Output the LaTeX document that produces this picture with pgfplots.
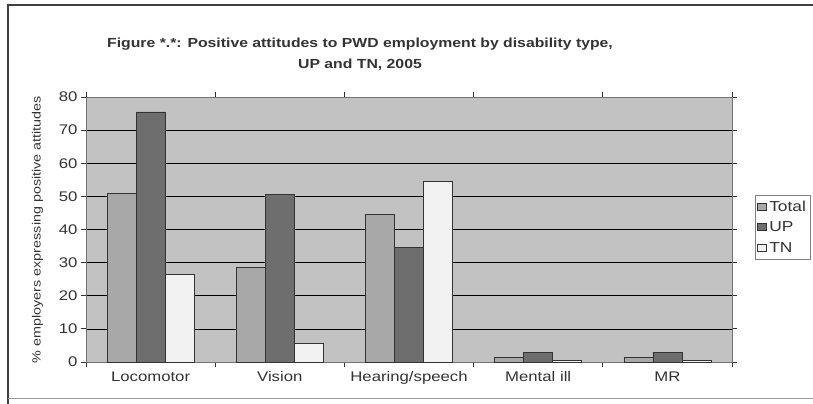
\documentclass[border=0pt]{standalone}
\usepackage{pgfplots}
\pgfplotsset{compat=1.18}
\usepackage{pgfplotstable}
\usetikzlibrary{calc}
\usepackage{fontspec}
\setmainfont[FakeStretch=1.2]{Liberation Sans}
\definecolor{txt}{HTML}{333333}
\definecolor{plotbg}{HTML}{C2C2C2}
\definecolor{cTotal}{HTML}{A8A8A8}
\definecolor{cUP}{HTML}{6E6E6E}
\definecolor{cTN}{HTML}{F2F2F2}

\pgfplotstableread{
x Total UP TN
0 51.0 75.5 26.5
1 28.5 50.5 5.5
2 44.5 34.5 54.5
3 1.5 3.0 0.5
4 1.5 3.0 0.5
}\attitudes

\begin{document}
\begin{tikzpicture}
\begin{axis}[
  name=main,
  scale only axis, width=646bp, height=265bp,
  axis background/.style={fill=plotbg},
  ybar=0pt, bar width=29bp,
  xmin=-0.5, xmax=4.5, ymin=0, ymax=80,
  xtick={0,...,4},
  xticklabels={Locomotor,Vision,Hearing/speech,Mental ill,MR},
  minor xtick={-0.5,0.5,...,4.5},
  every major x tick/.append style={draw=none},
  ytick={0,10,...,80},
  tick align=outside, major tick length=5bp, minor tick length=5bp,
  every tick/.append style={black!80, line width=0.8bp},
  ymajorgrids, grid style={black, line width=0.7bp},
  axis line style={black!55, line width=0.8bp},
  tick label style={text=txt, font=\fontsize{14}{16}\selectfont},
  /pgf/number format/assume math mode=true,
  xticklabel style={yshift=-1bp},
  ylabel={\% employers expressing positive attitudes},
  ylabel style={font=\fontsize{12}{14}\selectfont, text=txt, yshift=9bp},
  legend style={at={(rel axis cs:1.036,0.632)}, anchor=north west,
    draw=black!50, fill=white, font=\fontsize{14.5}{17}\selectfont, text=txt,
    row sep=5bp, inner xsep=2bp, inner ysep=4bp},
  legend image code/.code={\draw[#1, draw=black!80, line width=0.8bp] (0bp,-3.5bp) rectangle (9bp,3.5bp);},
  legend cell align=left,
]
\addplot[fill=cTotal, draw=black!80, line width=0.8bp] table[x=x,y=Total]{\attitudes};
\addplot[fill=cUP, draw=black!80, line width=0.8bp] table[x=x,y=UP]{\attitudes};
\addplot[fill=cTN, draw=black!80, line width=0.8bp] table[x=x,y=TN]{\attitudes};
\legend{Total,UP,TN}
\coordinate (o) at (rel axis cs:0,0);
\end{axis}
% page extent and chart frame, measured from the plot area's lower-left corner
\pgfresetboundingbox
\path[use as bounding box] ($(o)+(-86bp,-42bp)$) rectangle ($(o)+(727bp,362bp)$);
\draw[line width=1.6bp, black!75] ($(o)+(-78bp,-42bp)$) -- ($(o)+(-78bp,357bp)$) -- ($(o)+(727bp,357bp)$);
\draw[line width=1bp, black!40] ($(o)+(-78bp,-36bp)$) -- ($(o)+(727bp,-36bp)$);
\node[font=\bfseries\fontsize{13.2}{21}\selectfont, text=txt, align=center] at ($(o)+(274bp,308bp)$)
  {Figure *.*: Positive attitudes to PWD employment by disability type,\\UP and TN, 2005};
\end{tikzpicture}
\end{document}
